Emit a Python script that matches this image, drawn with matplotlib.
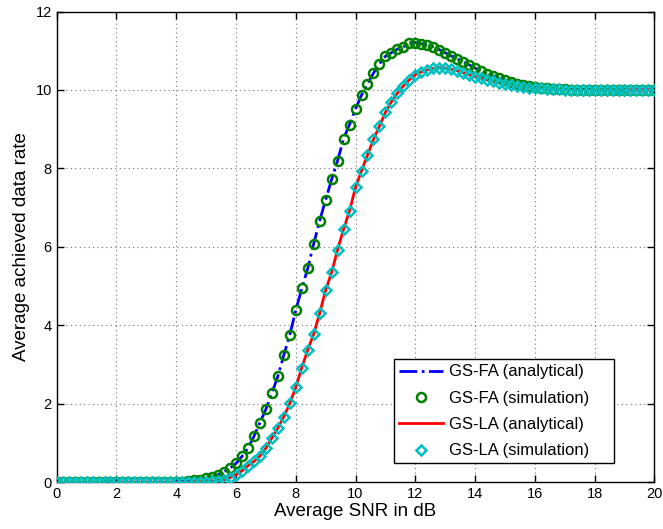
import numpy as np
import matplotlib
matplotlib.use('Agg')
import matplotlib.pyplot as plt

plt.rcParams['font.family'] = ['Liberation Sans', 'DejaVu Sans']

# SNR grid, 0.2 dB steps
snr = np.linspace(0, 20, 101)

rate_fa = [
    0.0, 0.0, 0.0, 0.0, 0.0, 0.0, 0.0, 0.0, 0.0, 0.0,            # 0.0 - 1.8
    0.0, 0.0, 0.0, 0.0, 0.0, 0.0, 0.0, 0.0, 0.0, 0.01,           # 2.0 - 3.8
    0.01, 0.02, 0.03, 0.05, 0.07, 0.10, 0.14, 0.19, 0.27, 0.36,  # 4.0 - 5.8
    0.48, 0.66, 0.87, 1.17, 1.52, 1.86, 2.27, 2.70, 3.24, 3.76,  # 6.0 - 7.8
    4.38, 4.94, 5.45, 6.08, 6.67, 7.20, 7.72, 8.20, 8.76, 9.12,  # 8.0 - 9.8
    9.52, 9.87, 10.15, 10.43, 10.67, 10.86, 10.95, 11.04, 11.10, 11.20,  # 10.0 - 11.8
    11.21, 11.18, 11.15, 11.10, 11.03, 10.95, 10.87, 10.79, 10.72, 10.64,  # 12.0 - 13.8
    10.56, 10.48, 10.42, 10.36, 10.30, 10.25, 10.20, 10.16, 10.12, 10.09,  # 14.0 - 15.8
    10.07, 10.05, 10.04, 10.03, 10.02, 10.02, 10.01, 10.01, 10.01, 10.01,  # 16.0 - 17.8
    10.0, 10.0, 10.0, 10.0, 10.0, 10.0, 10.0, 10.0, 10.0, 10.0,  # 18.0 - 19.8
    10.0,
]

rate_la = [
    0.0, 0.0, 0.0, 0.0, 0.0, 0.0, 0.0, 0.0, 0.0, 0.0,
    0.0, 0.0, 0.0, 0.0, 0.0, 0.0, 0.0, 0.0, 0.0, 0.0,
    0.0, 0.0, 0.0, 0.01, 0.01, 0.02, 0.03, 0.04, 0.06, 0.12,
    0.19, 0.29, 0.42, 0.53, 0.67, 0.87, 1.13, 1.38, 1.67, 2.01,
    2.42, 2.92, 3.37, 3.78, 4.31, 4.90, 5.35, 5.93, 6.45, 6.92,
    7.52, 7.94, 8.34, 8.74, 9.08, 9.43, 9.70, 9.92, 10.10, 10.26,
    10.39, 10.46, 10.51, 10.55, 10.57, 10.56, 10.53, 10.49, 10.44, 10.39,
    10.34, 10.30, 10.26, 10.22, 10.18, 10.15, 10.12, 10.10, 10.08, 10.06,
    10.05, 10.04, 10.03, 10.02, 10.02, 10.01, 10.01, 10.01, 10.01, 10.01,
    10.0, 10.0, 10.0, 10.0, 10.0, 10.0, 10.0, 10.0, 10.0, 10.0,
    10.0,
]

fig = plt.figure(figsize=(6.63, 5.29), dpi=100)
ax = fig.add_axes([0.0855, 0.0883, 0.9015, 0.8899])

ax.plot(snr, rate_fa, '-.', color='#0000ff', lw=2, label='GS-FA (analytical)', zorder=3)
ax.plot(snr, rate_fa, 'o', mfc='none', mec='#008000', ms=6.5, mew=1.8,
        label='GS-FA (simulation)', zorder=4)
ax.plot(snr, rate_la, '-', color='#ff0000', lw=2, label='GS-LA (analytical)', zorder=3)
ax.plot(snr, rate_la, 'D', mfc='none', mec='#00bfbf', ms=5.2, mew=1.8,
        label='GS-LA (simulation)', zorder=4)

ax.set_xlim(0, 20)
ax.set_ylim(0, 12)
ax.set_xticks(np.arange(0, 21, 2))
ax.set_yticks(np.arange(0, 13, 2))
ax.tick_params(direction='in', top=True, right=True, labelsize=10.5, length=5, width=1)
for s in ax.spines.values():
    s.set_linewidth(1)
ax.grid(True, linestyle=(0, (1, 3)), color='0.45', linewidth=0.8)

ax.set_xlabel('Average SNR in dB', fontsize=13.5, labelpad=1)
ax.set_ylabel('Average achieved data rate', fontsize=13.5, labelpad=4)

leg = ax.legend(loc='lower left', bbox_to_anchor=(0.565, 0.04, 0.367, 0.223),
                mode='expand', fontsize=12, fancybox=False, edgecolor='black',
                framealpha=1, borderaxespad=0, handlelength=2.6, labelspacing=0.68,
                handletextpad=0.4, borderpad=0.3)
leg.get_frame().set_linewidth(1)

fig.savefig('out.png', dpi=100)
